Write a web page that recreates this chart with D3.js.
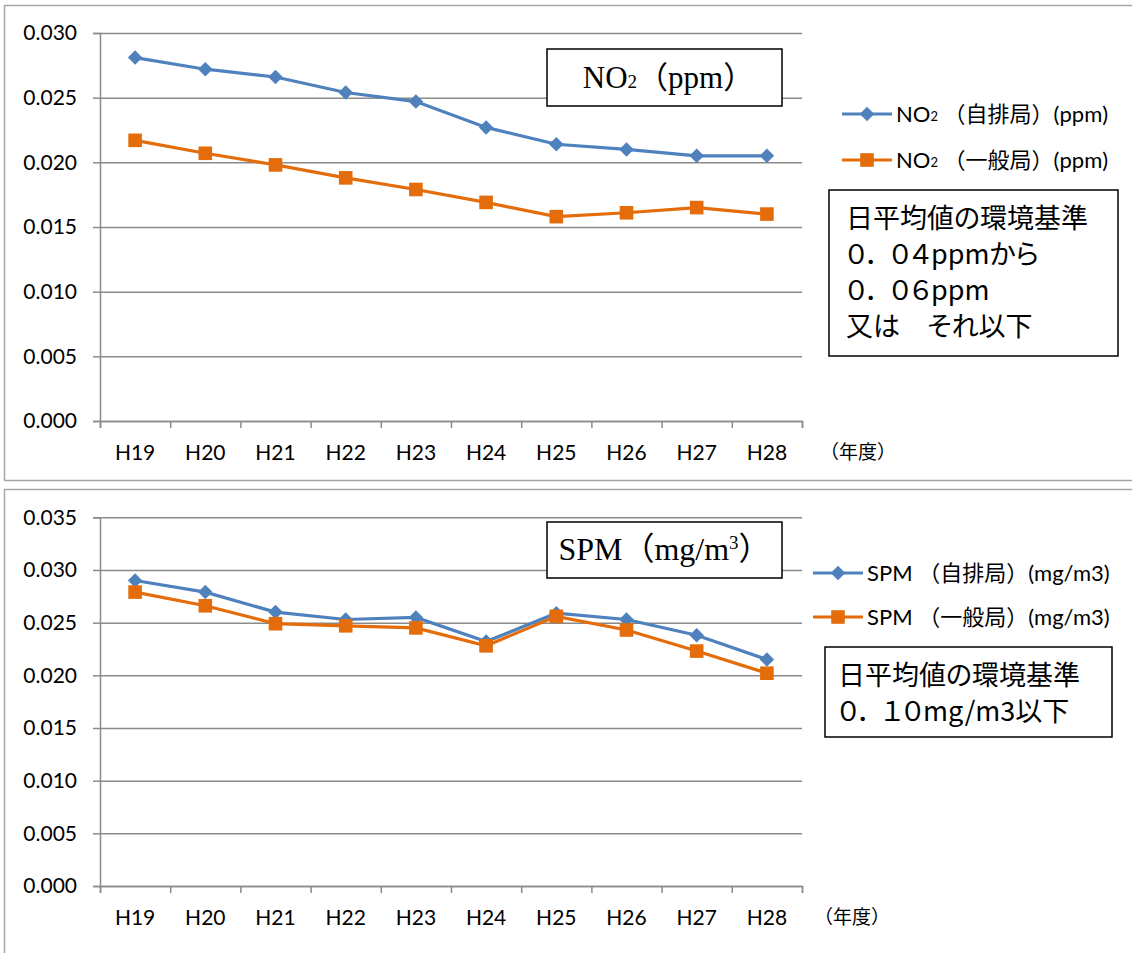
<!DOCTYPE html>
<html>
<head>
  <meta charset="utf-8">
  <script src="https://cdnjs.cloudflare.com/ajax/libs/d3/7.8.5/d3.min.js"></script>
  <style>
    body { margin: 0; background: #fff; }
    svg text { fill: #000; }
  </style>
</head>
<body>
  <div id="chart"></div>

  <script>
    // years (Heisei)
    var categories = ["H19", "H20", "H21", "H22", "H23", "H24", "H25", "H26", "H27", "H28"];

    // NO2 (ppm)
    var no2Road    = [0.0281, 0.0272, 0.0266, 0.0254, 0.0247, 0.0227, 0.0214, 0.0210, 0.0205, 0.0205];
    var no2General = [0.0217, 0.0207, 0.0198, 0.0188, 0.0179, 0.0169, 0.0158, 0.0161, 0.0165, 0.0160];

    // SPM (mg/m3)
    var spmRoad    = [0.0290, 0.0279, 0.0260, 0.0253, 0.0255, 0.0232, 0.0259, 0.0253, 0.0238, 0.0215];
    var spmGeneral = [0.0279, 0.0266, 0.0249, 0.0247, 0.0245, 0.0228, 0.0256, 0.0243, 0.0223, 0.0202];

    var no2Ticks = [0, 0.005, 0.010, 0.015, 0.020, 0.025, 0.030];
    var spmTicks = [0, 0.005, 0.010, 0.015, 0.020, 0.025, 0.030, 0.035];

    var no2Legend = ["（自排局）(ppm)", "（一般局）(ppm)"];
    var spmLegend = ["（自排局）(mg/m3)", "（一般局）(mg/m3)"];
    var no2Note = ["日平均値の環境基準", "０．０４ppmから", "０．０６ppm", "又は　それ以下"];
    var spmNote = ["日平均値の環境基準", "０．１０mg/m3以下"];

    var blue = "#4f81bd", orange = "#e46c0a", grid = "#8a8a8a";
    var latin = "Lato, 'Noto Sans CJK JP', sans-serif";
    var gothic = "'Noto Sans CJK JP', sans-serif";
    var serif = "'Liberation Serif', 'Noto Sans CJK JP', serif";

    var svg = d3.select("#chart").append("svg")
      .attr("width", 1132)
      .attr("height", 953);

    // diamond = rotated square, like the Excel marker
    function marker(sel, kind, color) {
      sel.attr("d", d3.symbol().type(d3.symbolSquare).size(kind === "diamond" ? 105 : 185))
        .attr("fill", color);
    }

    function drawPanel(p) {
      var g = svg.append("g");

      // outer chart border
      g.append("rect")
        .attr("x", p.box[0] + 0.5).attr("y", p.box[1] + 0.5)
        .attr("width", 1200).attr("height", p.box[2])
        .attr("fill", "#fff").attr("stroke", "#a6a6a6").attr("stroke-width", 1.5);

      var x = d3.scaleBand().domain(categories).range([100, 802]);
      var xi = d3.scaleLinear().domain([0, categories.length]).range([100, 802]);
      var y = d3.scaleLinear().domain([0, d3.max(p.ticks)]).range(p.yRange);

      // gridlines
      g.append("g")
        .attr("transform", "translate(100,0)")
        .call(d3.axisLeft(y).tickValues(p.ticks).tickSize(-702).tickFormat(""))
        .call(a => a.select(".domain").remove())
        .selectAll("line").attr("stroke", grid).attr("stroke-width", 1.5);

      // y axis
      var ya = g.append("g")
        .attr("transform", "translate(100,0)")
        .call(d3.axisLeft(y).tickValues(p.ticks).tickSize(7).tickPadding(16).tickFormat(d3.format(".3f")));
      ya.select(".domain").attr("stroke", grid).attr("stroke-width", 1.5);
      ya.selectAll("line").attr("stroke", grid).attr("stroke-width", 1.5);
      ya.selectAll("text").style("font-family", latin).style("font-size", "21px");

      // x axis ticks at category boundaries
      var xt = g.append("g")
        .attr("transform", "translate(0," + p.yRange[0] + ")")
        .call(d3.axisBottom(xi).tickValues(d3.range(categories.length + 1)).tickSize(7).tickFormat(""));
      xt.select(".domain").attr("stroke", grid).attr("stroke-width", 1.5);
      xt.selectAll("line").attr("stroke", grid).attr("stroke-width", 1.5);

      // x labels
      var xl = g.append("g")
        .attr("transform", "translate(0," + p.yRange[0] + ")")
        .call(d3.axisBottom(x).tickSize(0).tickPadding(24));
      xl.select(".domain").remove();
      xl.selectAll("text").style("font-family", latin).style("font-size", "21px");

      g.append("text")
        .attr("x", p.unitX).attr("y", p.yRange[0] + 38)
        .style("font-family", gothic).style("font-size", "19px")
        .text("（年度）");

      // series
      var line = d3.line()
        .x((d, i) => x(categories[i]) + x.bandwidth() / 2)
        .y(d => y(d));

      var series = [
        { values: p.road, color: blue, kind: "diamond" },
        { values: p.general, color: orange, kind: "square" }
      ];

      series.forEach(function (s) {
        g.append("path")
          .datum(s.values)
          .attr("fill", "none")
          .attr("stroke", s.color)
          .attr("stroke-width", 3.2)
          .attr("d", line);

        g.selectAll(null)
          .data(s.values)
          .enter().append("path")
          .attr("transform", (d, i) => "translate(" + (x(categories[i]) + x.bandwidth() / 2) + "," + y(d) + ")" + (s.kind === "diamond" ? " rotate(45)" : ""))
          .call(marker, s.kind, s.color);
      });

      // title box
      g.append("rect")
        .attr("x", p.title[0]).attr("y", p.title[1])
        .attr("width", p.title[2]).attr("height", p.title[3])
        .attr("fill", "#fff").attr("stroke", "#000").attr("stroke-width", 1.5);

      var tt = g.append("text")
        .attr("x", p.title[0] + p.title[2] / 2 + p.titleShift)
        .attr("y", p.title[1] + p.title[3] / 2 + 10)
        .attr("text-anchor", "middle")
        .style("font-family", serif).style("font-size", p.titleSize);
      p.titleParts.forEach(function (t) {
        var ts = tt.append("tspan").text(t[0]);
        if (t[1] === "sub") ts.style("font-size", "19px");
        if (t[1] === "sup") ts.style("font-size", "19px").attr("dy", -11);
        if (t[1] === "after") ts.attr("dy", 11);
      });

      // legend
      series.forEach(function (s, i) {
        var ly = p.legend[1] + i * p.legend[3];
        var lx = p.legend[0];
        g.append("line")
          .attr("x1", lx).attr("x2", lx + 50)
          .attr("y1", ly).attr("y2", ly)
          .attr("stroke", s.color).attr("stroke-width", 3.2);
        g.append("path")
          .attr("transform", "translate(" + (lx + 25) + "," + ly + ")" + (s.kind === "diamond" ? " rotate(45)" : ""))
          .call(marker, s.kind, s.color);
        var lt = g.append("text")
          .attr("x", lx + 54).attr("y", ly + 8)
          .style("font-family", latin).style("font-size", "22px");
        lt.append("tspan").text(p.legendName);
        if (p.legendSub) lt.append("tspan").text(p.legendSub).style("font-size", "13px").attr("dy", -1);
        lt.append("tspan").text(" " + p.legendLabels[i]).attr("dy", p.legendSub ? 1 : 0);
      });

      // note box
      g.append("rect")
        .attr("x", p.note[0]).attr("y", p.note[1])
        .attr("width", p.note[2]).attr("height", p.note[3])
        .attr("fill", "#fff").attr("stroke", "#000").attr("stroke-width", 1.5);

      g.selectAll(null)
        .data(p.noteLines)
        .enter().append("text")
        .attr("x", p.note[0] + p.noteX)
        .attr("y", (d, i) => p.note[1] + 38 + i * 36)
        .style("font-family", gothic).style("font-size", "27px")
        .style("font-feature-settings", "'palt'")
        .each(function (d) {
          // proportional glyphs, with a small gap after the full-width period
          var t = d3.select(this);
          d.split("．").forEach(function (part, k) {
            t.append("tspan").text(k > 0 ? part : part + (d.indexOf("．") >= 0 ? "．" : ""))
              .attr("dx", k > 0 ? 10 : null);
          });
        });
    }

    drawPanel({
      box: [4, 5, 475],
      ticks: no2Ticks,
      yRange: [421, 33],
      road: no2Road,
      general: no2General,
      unitX: 820,
      title: [547, 49, 235, 57],
      titleShift: 4,
      titleSize: "31px",
      titleParts: [["NO"], ["2", "sub"], ["（ppm）"]],
      legend: [842, 114, 0, 46],
      legendName: "NO",
      legendSub: "2",
      legendLabels: no2Legend,
      note: [829, 190, 289, 166],
      noteX: 17,
      noteLines: no2Note
    });

    drawPanel({
      box: [4, 489, 500],
      ticks: spmTicks,
      yRange: [886, 517.3],
      road: spmRoad,
      general: spmGeneral,
      unitX: 814,
      title: [547, 522, 235, 56],
      titleShift: 0,
      titleSize: "32px",
      titleParts: [["SPM（mg/m"], ["3", "sup"], ["）", "after"]],
      legend: [813, 573, 0, 44],
      legendName: "SPM",
      legendSub: null,
      legendLabels: spmLegend,
      note: [825, 647, 287, 90],
      noteX: 13,
      noteLines: spmNote
    });
  </script>
</body>
</html>
